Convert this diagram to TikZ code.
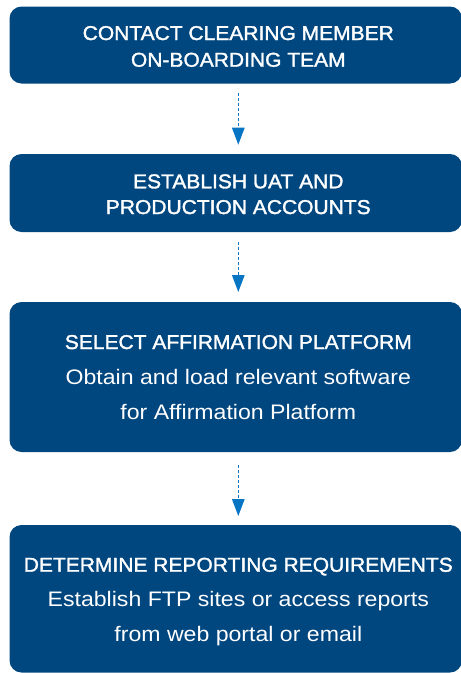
\documentclass[tikz,border=0pt]{standalone}
\usepackage{fontspec}
\setmainfont{Liberation Sans}
\newfontfamily\headfont[FakeStretch=1.05,FakeBold=1.6]{Liberation Sans}
\newfontfamily\bodyfont[FakeStretch=1.1]{Liberation Sans}
\usetikzlibrary{arrows.meta}
\definecolor{boxblue}{RGB}{0,70,127}
\definecolor{arrowblue}{RGB}{8,116,196}
\begin{document}
\begin{tikzpicture}[x=1pt,y=-1pt,
  stepbox/.style={fill=boxblue, draw=none, rounded corners=12pt,
    minimum width=452.5pt, inner sep=0pt, outer sep=0pt},
  head/.style={text=white, font=\headfont\fontsize{20}{24}\selectfont,
    anchor=base, inner sep=0pt},
  body/.style={text=white, font=\bodyfont\fontsize{21}{25}\selectfont,
    anchor=base, inner sep=0pt},
  flow/.style={arrowblue, line width=1.3pt, dash pattern=on 3pt off 2pt,
    -{Triangle[width=12.5pt,length=17pt]}}]
\useasboundingbox (0,0) rectangle (461,673);

% process steps
\node[stepbox, minimum height=77pt]    (b1) at (235.75,45) {};
\node[stepbox, minimum height=78pt]    (b2) at (235.75,193) {};
\node[stepbox, minimum height=150pt]   (b3) at (235.75,377) {};
\node[stepbox, minimum height=147.5pt] (b4) at (235.75,598.75) {};

% step texts
\node[head] (t1a) at (238.3,40)   {CONTACT CLEARING MEMBER};
\node[head] (t1b) at (238.3,66.7) {ON-BOARDING TEAM};

\node[head] (t2a) at (238.3,188.3) {ESTABLISH UAT AND};
\node[head] (t2b) at (238.3,214)   {PRODUCTION ACCOUNTS};

\node[head] (t3a) at (238.3,349) {SELECT AFFIRMATION PLATFORM};
\node[body] (t3b) at (238.3,384) {Obtain and load relevant software};
\node[body] (t3c) at (238.3,419) {for Affirmation Platform};

\node[head] (t4a) at (238.3,571.7) {DETERMINE REPORTING REQUIREMENTS};
\node[body] (t4b) at (238.3,606.7) {Establish FTP sites or access reports};
\node[body] (t4c) at (238.3,641.7) {from web portal or email};

% connectors
\draw[flow, shorten <=9.5pt, shorten >=9.3pt] (t1a |- b1.south) -- (t1a |- b2.north);
\draw[flow, shorten <=10pt, shorten >=10pt]   (t1a |- b2.south) -- (t1a |- b3.north);
\draw[flow, shorten <=13pt, shorten >=9pt]    (t1a |- b3.south) -- (t1a |- b4.north);
\end{tikzpicture}
\end{document}
